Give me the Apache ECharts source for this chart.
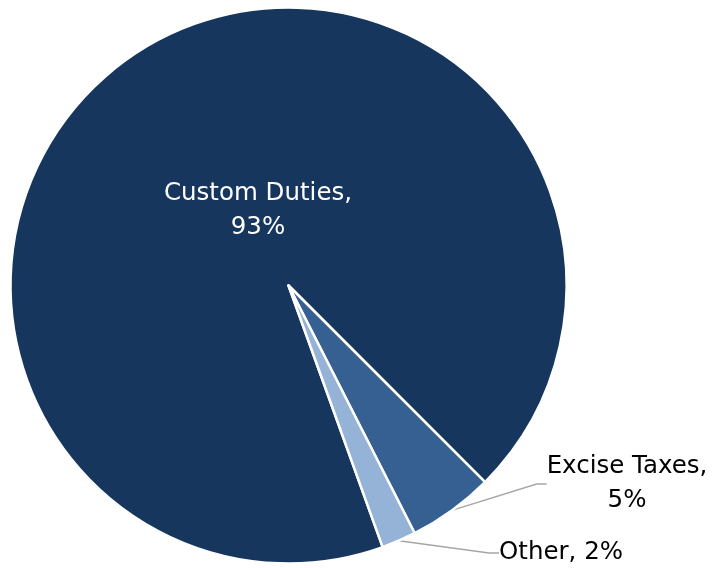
<!DOCTYPE html>
<html>
<head>
<meta charset="utf-8">
<script src="https://cdn.jsdelivr.net/npm/echarts@6/dist/echarts.min.js"></script>
<style>
html,body{margin:0;padding:0;background:#fff;}
#chart{width:715px;height:568px;}
</style>
</head>
<body>
<div id="chart"></div>
<script>
const categories = ['Custom Duties', 'Excise Taxes', 'Other'];
const values = [93, 5, 2];
const sliceColors = ['#17365D', '#366092', '#95B3D7'];
const labelTexts = ['Custom Duties,\n93%', 'Excise Taxes,\n5%', 'Other, 2%'];
const labelPositions = [[258, 211], [627, 484], [561, 553]];

const chart = echarts.init(document.getElementById('chart'), null, {renderer: 'canvas'});
const data = categories.map((c, i) => ({
  name: c,
  value: values[i],
  itemStyle: {color: sliceColors[i]},
  label: {
    formatter: labelTexts[i],
    position: i === 0 ? 'inside' : 'outside',
    color: i === 0 ? '#ffffff' : '#000000',
    align: 'center'
  },
  labelLine: {show: i !== 0}
}));

chart.setOption({
  animation: false,
  series: [{
    type: 'pie',
    center: [288.5, 285.5],
    radius: [0, 278],
    startAngle: 289.8,
    clockwise: true,
    avoidLabelOverlap: false,
    data: data,
    itemStyle: {borderColor: '#ffffff', borderWidth: 2.5},
    label: {
      fontFamily: 'DejaVu Sans, sans-serif',
      fontSize: 24.5,
      lineHeight: 34
    },
    labelLine: {
      length: 40,
      length2: 10,
      smooth: false,
      lineStyle: {color: '#A6A6A6', width: 1.5}
    },
    labelLayout: function (params) {
      const p = labelPositions[params.dataIndex];
      return {x: p[0], y: p[1], align: 'center', verticalAlign: 'middle'};
    }
  }]
});
</script>
</body>
</html>
